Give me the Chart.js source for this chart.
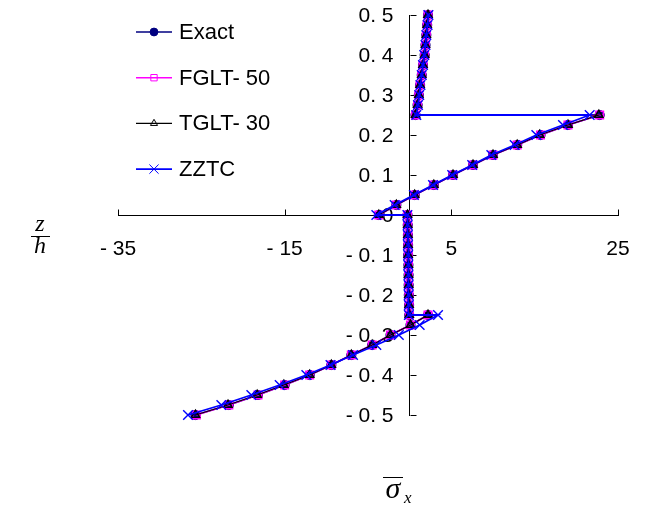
<!DOCTYPE html>
<html>
<head>
<meta charset="utf-8">
<script src="https://cdn.jsdelivr.net/npm/chart.js@4/dist/chart.umd.min.js"></script>
<style>
  html, body { margin: 0; padding: 0; background: #fff; }
  #wrap { width: 645px; height: 506px; }
</style>
</head>
<body>
<div id="wrap"><canvas id="c" width="645" height="506"></canvas></div>
<script>
// Through-thickness coordinate z/h for the four plies, sampled every 0.025
const zPly1 = [-0.5, -0.475, -0.45, -0.425, -0.4, -0.375, -0.35, -0.325, -0.3, -0.275, -0.25];
const zPly2 = [-0.25, -0.225, -0.2, -0.175, -0.15, -0.125, -0.1, -0.075, -0.05, -0.025, 0];
const zPly3 = [0, 0.025, 0.05, 0.075, 0.1, 0.125, 0.15, 0.175, 0.2, 0.225, 0.25];
const zPly4 = [0.25, 0.275, 0.3, 0.325, 0.35, 0.375, 0.4, 0.425, 0.45, 0.475, 0.5];
const zValues = zPly1.concat(zPly2, zPly3, zPly4);

// Normalised in-plane stress sigma_x at each z (ply 1 .. ply 4)
const sigmaExact = [
  -25.7, -21.7, -18.2, -15.0, -12.0, -9.4, -7.0, -4.5, -2.3, 0.1, 2.2,
  -0.05, -0.07, -0.10, -0.12, -0.13, -0.15, -0.18, -0.19, -0.21, -0.23, -0.26,
  -3.7, -1.6, 0.6, 2.9, 5.2, 7.6, 10.0, 12.9, 15.7, 19.0, 22.8,
  0.7, 0.95, 1.1, 1.25, 1.45, 1.6, 1.8, 1.9, 2.0, 2.1, 2.2
];
const sigmaFGLT50 = [
  -25.6, -21.7, -18.2, -15.0, -12.0, -9.4, -7.0, -4.5, -2.3, 0.1, 2.2,
  -0.05, -0.07, -0.09, -0.12, -0.13, -0.15, -0.17, -0.19, -0.21, -0.23, -0.26,
  -3.7, -1.6, 0.6, 2.9, 5.2, 7.6, 10.0, 12.9, 15.7, 19.0, 22.8,
  0.7, 0.95, 1.1, 1.25, 1.45, 1.6, 1.8, 1.9, 2.0, 2.1, 2.2
];
const sigmaTGLT30 = [
  -25.7, -21.8, -18.3, -15.1, -12.0, -9.4, -7.0, -4.5, -2.3, 0.1, 2.2,
  -0.05, -0.07, -0.10, -0.12, -0.14, -0.15, -0.18, -0.19, -0.21, -0.23, -0.26,
  -3.7, -1.6, 0.6, 2.9, 5.2, 7.6, 10.0, 12.9, 15.6, 19.0, 22.7,
  0.7, 0.95, 1.1, 1.25, 1.45, 1.6, 1.8, 1.9, 2.0, 2.1, 2.2
];
const sigmaZZTC = [
  -26.6, -22.6, -19.0, -15.6, -12.4, -9.5, -6.8, -4.0, -1.3, 1.2, 3.4,
  -0.10, -0.10, -0.12, -0.13, -0.15, -0.17, -0.18, -0.20, -0.22, -0.24, -0.27,
  -4.0, -1.8, 0.5, 2.8, 5.1, 7.5, 9.8, 12.6, 15.2, 18.4, 21.6,
  0.8, 1.0, 1.15, 1.3, 1.45, 1.6, 1.75, 1.9, 2.0, 2.15, 2.25
];

const seriesNames = ['Exact', 'FGLT- 50', 'TGLT- 30', 'ZZTC'];

// Axis ticks and their printed labels
const xTickValues = [-35, -15, 5, 25];
const xTickLabels = ['- 35', '- 15', '5', '25'];
const yTickValues = [-0.5, -0.4, -0.3, -0.2, -0.1, 0, 0.1, 0.2, 0.3, 0.4, 0.5];
const yTickLabels = ['- 0. 5', '- 0. 4', '- 0. 3', '- 0. 2', '- 0. 1', '0', '0. 1', '0. 2', '0. 3', '0. 4', '0. 5'];

const toPoints = (sig) => sig.map((s, i) => ({ x: s, y: zValues[i] }));

const SANS = '"Liberation Sans", Arial, sans-serif';
const SERIF = '"Liberation Serif", "Times New Roman", serif';

const datasets = [
  { label: seriesNames[0], data: toPoints(sigmaExact), borderColor: '#000080', backgroundColor: '#000080',
    borderWidth: 1.5, pointStyle: 'circle', pointRadius: 4.6, pointBorderWidth: 1, order: 4 },
  { label: seriesNames[1], data: toPoints(sigmaFGLT50), borderColor: '#ff00ff', backgroundColor: 'rgba(0,0,0,0)',
    borderWidth: 1.5, pointStyle: 'rect', pointRadius: 5.3, pointBorderWidth: 1.6, order: 3 },
  { label: seriesNames[2], data: toPoints(sigmaTGLT30), borderColor: '#000000', backgroundColor: 'rgba(0,0,0,0)',
    borderWidth: 1.2, pointStyle: 'triangle', pointRadius: 4.8, pointBorderWidth: 1.4, order: 2 },
  { label: seriesNames[3], data: toPoints(sigmaZZTC), borderColor: '#0000ff', backgroundColor: '#0000ff',
    borderWidth: 1.8, pointStyle: 'crossRot', pointRadius: 6.8, pointBorderWidth: 1.4, order: 1 }
];
datasets.forEach(d => { d.showLine = true; d.tension = 0; d.clip = false; });

// White page background
const background = {
  id: 'background',
  beforeDraw(chart) {
    const ctx = chart.ctx;
    ctx.save();
    ctx.fillStyle = '#fff';
    ctx.fillRect(0, 0, chart.width, chart.height);
    ctx.restore();
  }
};

// Short tick marks pointing into the plot from both crossing axes, plus their labels
const crossAxes = {
  id: 'crossAxes',
  beforeDatasetsDraw(chart) {
    const { ctx, scales: { x, y } } = chart;
    const x0 = Math.round(x.getPixelForValue(0)) + 0.5;
    const y0 = Math.round(y.getPixelForValue(0)) + 0.5;
    ctx.save();
    ctx.strokeStyle = '#000';
    ctx.lineWidth = 1;
    ctx.beginPath();
    xTickValues.forEach(v => {
      const px = Math.round(x.getPixelForValue(v)) + 0.5;
      ctx.moveTo(px, y0); ctx.lineTo(px, y0 - 6);
    });
    yTickValues.forEach(v => {
      const py = Math.round(y.getPixelForValue(v)) + 0.5;
      ctx.moveTo(x0, py); ctx.lineTo(x0 + 6, py);
    });
    ctx.stroke();

    ctx.fillStyle = '#000';
    ctx.font = '21px ' + SANS;
    ctx.textBaseline = 'middle';
    ctx.textAlign = 'center';
    xTickValues.forEach((v, i) => {
      ctx.fillText(xTickLabels[i], x.getPixelForValue(v), y0 + 34);
    });
    ctx.textAlign = 'right';
    yTickValues.forEach((v, i) => {
      ctx.fillText(yTickLabels[i], x0 - 17, y.getPixelForValue(v) + 1);
    });
    ctx.restore();
  }
};

// Vertical legend in the upper-left part of the plot
const legendBox = {
  id: 'legendBox',
  afterDraw(chart) {
    const ctx = chart.ctx;
    const lineX0 = 136, lineX1 = 172, markX = 154, textX = 179;
    const rowY0 = 32, rowStep = 45.7;
    ctx.save();
    chart.data.datasets.forEach((ds, i) => {
      const yy = rowY0 + i * rowStep;
      ctx.strokeStyle = ds.borderColor;
      ctx.lineWidth = ds.borderWidth;
      ctx.beginPath(); ctx.moveTo(lineX0, yy); ctx.lineTo(lineX1, yy); ctx.stroke();
      ctx.fillStyle = ds.backgroundColor;
      ctx.lineWidth = 1;
      const r = ds.pointStyle === 'crossRot' ? 6.5 : ds.pointRadius * 0.85;
      Chart.helpers.drawPoint(ctx, { pointStyle: ds.pointStyle, radius: r, borderWidth: 1, rotation: 0 }, markX, yy);
      ctx.fillStyle = '#000';
      ctx.font = '22px ' + SANS;
      ctx.textAlign = 'left';
      ctx.textBaseline = 'middle';
      ctx.fillText(ds.label, textX, yy + 1);
    });
    ctx.restore();
  }
};

// Axis titles: z/h as a stacked fraction and sigma-bar with subscript x
const axisTitles = {
  id: 'axisTitles',
  afterDraw(chart) {
    const ctx = chart.ctx;
    ctx.save();
    ctx.fillStyle = '#000';
    ctx.strokeStyle = '#000';
    ctx.textBaseline = 'alphabetic';
    ctx.textAlign = 'center';
    ctx.font = 'italic 24px ' + SERIF;
    ctx.fillText('z', 40, 231);
    ctx.fillText('h', 40, 253);
    ctx.lineWidth = 1;
    ctx.beginPath(); ctx.moveTo(31, 236.5); ctx.lineTo(50, 236.5); ctx.stroke();
    ctx.font = 'italic 30px ' + SERIF;
    ctx.fillText('σ', 393, 498);
    ctx.beginPath(); ctx.moveTo(383, 477.5); ctx.lineTo(403, 477.5); ctx.stroke();
    ctx.textAlign = 'left';
    ctx.font = 'italic 17px ' + SERIF;
    ctx.fillText('x', 404, 503);
    ctx.restore();
  }
};

new Chart(document.getElementById('c'), {
  type: 'scatter',
  data: { datasets },
  options: {
    responsive: false,
    animation: false,
    layout: { padding: { left: 118, right: 27, top: 15, bottom: 91 } },
    plugins: { legend: { display: false }, tooltip: { enabled: false } },
    scales: {
      x: {
        type: 'linear',
        min: -35, max: 25,
        position: { y: 0 },
        grid: { display: false, drawTicks: false },
        border: { display: true, color: '#000', width: 1 },
        afterBuildTicks: (scale) => { scale.ticks = xTickValues.map(v => ({ value: v })); },
        ticks: { display: false }
      },
      y: {
        type: 'linear',
        min: -0.5, max: 0.5,
        position: { x: 0 },
        grid: { display: false, drawTicks: false },
        border: { display: true, color: '#000', width: 1 },
        afterBuildTicks: (scale) => { scale.ticks = yTickValues.map(v => ({ value: v })); },
        ticks: { display: false }
      }
    }
  },
  plugins: [background, crossAxes, legendBox, axisTitles]
});
</script>
</body>
</html>
